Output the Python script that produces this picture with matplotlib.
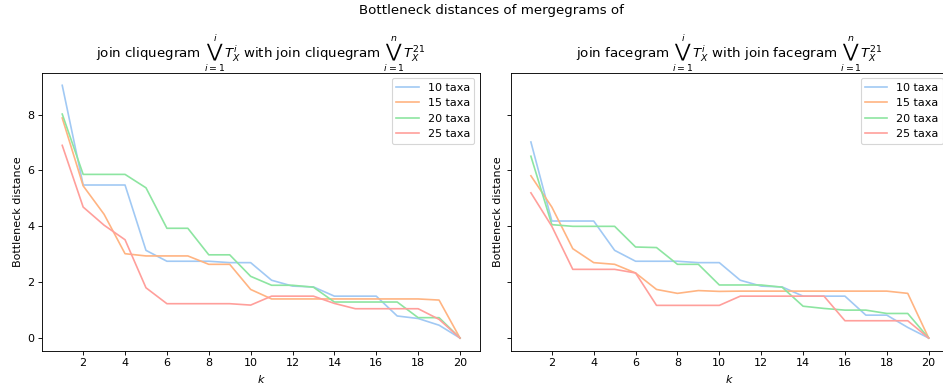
#!/usr/bin/env python3
"""Bottleneck distances of mergegrams: join cliquegram vs join facegram, per number of taxa."""
import matplotlib

matplotlib.use("Agg")
import matplotlib.pyplot as plt  # noqa: E402

K = list(range(1, 21))
LABELS = ["10 taxa", "15 taxa", "20 taxa", "25 taxa"]
COLORS = ["#a1c9f4", "#ffb482", "#8de5a1", "#ff9f9b"]

# join cliquegram (left panel)
clique_10 = [9.05, 5.48, 5.48, 5.48, 3.14, 2.75, 2.75, 2.75, 2.70, 2.70,
             2.07, 1.86, 1.83, 1.50, 1.50, 1.50, 0.79, 0.70, 0.46, 0.0]
clique_15 = [7.88, 5.45, 4.43, 3.02, 2.94, 2.94, 2.94, 2.64, 2.64, 1.74,
             1.40, 1.40, 1.40, 1.40, 1.40, 1.40, 1.40, 1.40, 1.36, 0.0]
clique_20 = [8.02, 5.86, 5.86, 5.86, 5.38, 3.93, 3.93, 2.98, 2.98, 2.21,
             1.89, 1.89, 1.82, 1.29, 1.29, 1.29, 1.29, 0.73, 0.73, 0.0]
clique_25 = [6.90, 4.69, 4.04, 3.52, 1.80, 1.23, 1.23, 1.23, 1.23, 1.18,
             1.50, 1.50, 1.50, 1.24, 1.05, 1.05, 1.05, 1.05, 0.67, 0.0]

# join facegram (right panel)
face_10 = [7.02, 4.19, 4.19, 4.19, 3.14, 2.75, 2.75, 2.75, 2.70, 2.70,
           2.07, 1.86, 1.83, 1.50, 1.50, 1.50, 0.82, 0.82, 0.38, 0.0]
face_15 = [5.81, 4.69, 3.20, 2.70, 2.64, 2.33, 1.74, 1.60, 1.70, 1.67,
           1.68, 1.68, 1.68, 1.68, 1.68, 1.68, 1.68, 1.68, 1.60, 0.0]
face_20 = [6.51, 4.06, 4.00, 4.00, 4.00, 3.26, 3.24, 2.64, 2.64, 1.90,
           1.90, 1.90, 1.82, 1.14, 1.06, 1.00, 1.00, 0.88, 0.88, 0.0]
face_25 = [5.20, 4.00, 2.46, 2.46, 2.46, 2.33, 1.17, 1.17, 1.17, 1.17,
           1.50, 1.50, 1.50, 1.50, 1.50, 0.62, 0.62, 0.62, 0.62, 0.0]

TITLE_L = (r"join cliquegram $\bigvee_{i=1}^{i}T_X^i$ with join cliquegram "
           r"$\bigvee_{i=1}^{n}T_X^{21}$")
TITLE_R = (r"join facegram $\bigvee_{i=1}^{i}T_X^i$ with join facegram "
           r"$\bigvee_{i=1}^{n}T_X^{21}$")


def panel(ax, series, title):
    for ys, lab, col in zip(series, LABELS, COLORS):
        ax.plot(K, ys, color=col, lw=1.5, label=lab)
    ax.set_xticks(range(2, 21, 2))
    ax.set_xlabel("$k$")
    ax.set_ylabel("Bottleneck distance")
    ax.set_title(title, fontsize=12)
    ax.legend(loc="upper right", fontsize=10)


def main():
    # drawn at 80 dpi so text and lines come out at the reference's scale
    fig = plt.figure(figsize=(943 / 80, 389 / 80), dpi=80)
    ax1 = fig.add_axes([0.0449, 0.0985, 0.4640, 0.7147])
    ax2 = fig.add_axes([0.5419, 0.0985, 0.4640, 0.7147], sharey=ax1)
    panel(ax1, [clique_10, clique_15, clique_20, clique_25], TITLE_L)
    panel(ax2, [face_10, face_15, face_20, face_25], TITLE_R)
    ax2.tick_params(labelleft=False)
    fig.text(0.5207, 0.99, "Bottleneck distances of mergegrams of",
             ha="center", va="top", fontsize=12)
    fig.savefig("out.png", dpi=80)
    plt.close(fig)


if __name__ == "__main__":
    main()
